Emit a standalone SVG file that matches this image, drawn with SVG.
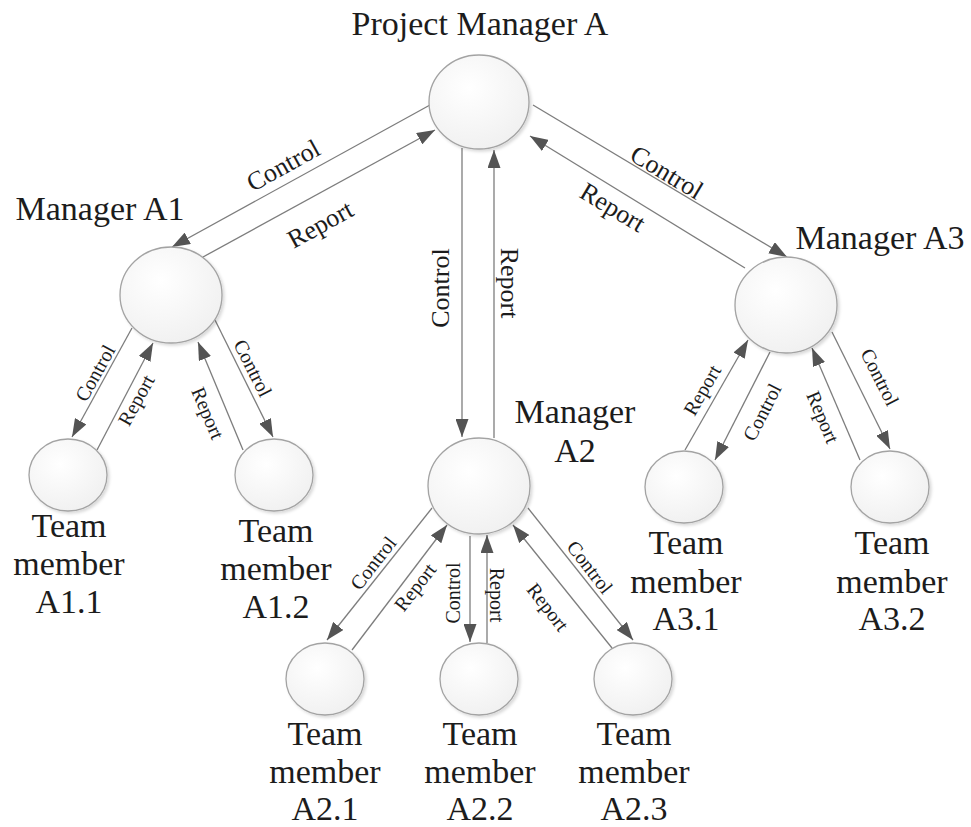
<svg xmlns="http://www.w3.org/2000/svg" width="971" height="827" viewBox="0 0 971 827" font-family="'Liberation Serif', 'Times New Roman', 'DejaVu Serif', serif">
  <defs>
    <radialGradient id="ball" cx="0.4" cy="0.35" r="0.75">
      <stop offset="0" stop-color="#ffffff"/>
      <stop offset="1" stop-color="#efefef"/>
    </radialGradient>
    <filter id="shade" x="-20%" y="-20%" width="140%" height="140%">
      <feDropShadow dx="2" dy="2" stdDeviation="1.5" flood-color="#000" flood-opacity="0.15"/>
    </filter>
    <marker id="head" viewBox="0 0 18 13" refX="18" refY="6.5" markerWidth="18" markerHeight="13" markerUnits="userSpaceOnUse" orient="auto">
      <path d="M0,0 L18,6.5 L0,13 z" fill="#545454"/>
    </marker>
  </defs>
  <style>
    .node ellipse { fill: url(#ball); stroke: #a3a3a3; stroke-width: 1.3; filter: url(#shade); }
    text { fill: #1c1c1c; text-anchor: middle; }
    .name { font-size: 34px; }
    .link { stroke: #7d7d7d; stroke-width: 1.3; fill: none; marker-end: url(#head); }
    .big text { font-size: 26px; }
    .small text { font-size: 20px; }
  </style>
  <rect width="971" height="827" fill="#ffffff"/>

  <!-- connectors -->
  <g id="connectors" font-family="Liberation Serif, serif">
    <path class="link" d="M430,105 L172,247"/>
    <path class="link" d="M203,257 L435,130"/>
    <path class="link" d="M462,148 L462,437"/>
    <path class="link" d="M494,438 L494,150"/>
    <path class="link" d="M533,105 L787,257"/>
    <path class="link" d="M745,268 L530,136"/>

    <path class="link" d="M132,328 L72,437"/>
    <path class="link" d="M97,450 L153,343"/>
    <path class="link" d="M243,450 L198,342"/>
    <path class="link" d="M215,320 L273,437"/>

    <path class="link" d="M432,508 L327,640"/>
    <path class="link" d="M352,650 L447,525"/>
    <path class="link" d="M470,536 L470,642"/>
    <path class="link" d="M487,643 L487,535"/>
    <path class="link" d="M612,648 L513,525"/>
    <path class="link" d="M528,508 L633,640"/>

    <path class="link" d="M685,450 L748,340"/>
    <path class="link" d="M770,352 L715,460"/>
    <path class="link" d="M860,460 L812,348"/>
    <path class="link" d="M832,332 L890,449"/>

    <g class="big">
      <text transform="translate(283,165) rotate(-29)" dy="0.35em">Control</text>
      <text transform="translate(320,224) rotate(-29)" dy="0.35em">Report</text>
      <text transform="translate(440,288) rotate(-90)" dy="0.35em">Control</text>
      <text transform="translate(510,283) rotate(90)" dy="0.35em">Report</text>
      <text transform="translate(667,172) rotate(31)" dy="0.35em">Control</text>
      <text transform="translate(613,207) rotate(31)" dy="0.35em">Report</text>
    </g>
    <g class="small">
      <text transform="translate(95,373) rotate(-61)" dy="0.35em">Control</text>
      <text transform="translate(136,400) rotate(-61)" dy="0.35em">Report</text>
      <text transform="translate(208,413) rotate(67)" dy="0.35em">Report</text>
      <text transform="translate(253,368) rotate(63)" dy="0.35em">Control</text>

      <text transform="translate(373,563) rotate(-52)" dy="0.35em">Control</text>
      <text transform="translate(415,587) rotate(-52)" dy="0.35em">Report</text>
      <text transform="translate(453,593) rotate(-90)" dy="0.35em">Control</text>
      <text transform="translate(497,595) rotate(90)" dy="0.35em">Report</text>
      <text transform="translate(548,607) rotate(52)" dy="0.35em">Report</text>
      <text transform="translate(590,567) rotate(52)" dy="0.35em">Control</text>

      <text transform="translate(702,390) rotate(-60)" dy="0.35em">Report</text>
      <text transform="translate(762,412) rotate(-63)" dy="0.35em">Control</text>
      <text transform="translate(823,417) rotate(67)" dy="0.35em">Report</text>
      <text transform="translate(880,377) rotate(63)" dy="0.35em">Control</text>
    </g>
  </g>

  <!-- nodes -->
  <g id="nodes" font-family="Liberation Serif, serif">
  <g id="pm-a" class="node">
    <ellipse cx="479" cy="102" rx="50" ry="47"/>
    <text class="name" x="480" y="35">Project Manager A</text>
  </g>
  <g id="manager-a1" class="node">
    <ellipse cx="171" cy="295" rx="51" ry="48"/>
    <text class="name" x="100" y="220">Manager A1</text>
  </g>
  <g id="manager-a2" class="node">
    <ellipse cx="479" cy="486" rx="51" ry="48"/>
    <text class="name" x="575" y="423">Manager</text>
    <text class="name" x="575" y="462">A2</text>
  </g>
  <g id="manager-a3" class="node">
    <ellipse cx="786" cy="305" rx="51" ry="48"/>
    <text class="name" x="880" y="249">Manager A3</text>
  </g>

  <g id="member-a1-1" class="node">
    <ellipse cx="68" cy="475" rx="39" ry="36"/>
    <text class="name" x="69" y="537">Team</text>
    <text class="name" x="69" y="575">member</text>
    <text class="name" x="69" y="613">A1.1</text>
  </g>
  <g id="member-a1-2" class="node">
    <ellipse cx="274" cy="475" rx="39" ry="36"/>
    <text class="name" x="276" y="542">Team</text>
    <text class="name" x="276" y="580">member</text>
    <text class="name" x="276" y="618">A1.2</text>
  </g>
  <g id="member-a2-1" class="node">
    <ellipse cx="325" cy="679" rx="39" ry="36"/>
    <text class="name" x="325" y="745">Team</text>
    <text class="name" x="325" y="783">member</text>
    <text class="name" x="325" y="820">A2.1</text>
  </g>
  <g id="member-a2-2" class="node">
    <ellipse cx="479" cy="679" rx="39" ry="36"/>
    <text class="name" x="480" y="745">Team</text>
    <text class="name" x="480" y="783">member</text>
    <text class="name" x="480" y="820">A2.2</text>
  </g>
  <g id="member-a2-3" class="node">
    <ellipse cx="633" cy="679" rx="39" ry="36"/>
    <text class="name" x="634" y="745">Team</text>
    <text class="name" x="634" y="783">member</text>
    <text class="name" x="634" y="820">A2.3</text>
  </g>
  <g id="member-a3-1" class="node">
    <ellipse cx="684" cy="487" rx="39" ry="36"/>
    <text class="name" x="686" y="554">Team</text>
    <text class="name" x="686" y="593">member</text>
    <text class="name" x="686" y="630">A3.1</text>
  </g>
  <g id="member-a3-2" class="node">
    <ellipse cx="890" cy="487" rx="39" ry="36"/>
    <text class="name" x="892" y="554">Team</text>
    <text class="name" x="892" y="593">member</text>
    <text class="name" x="892" y="630">A3.2</text>
  </g>
  </g>
</svg>
